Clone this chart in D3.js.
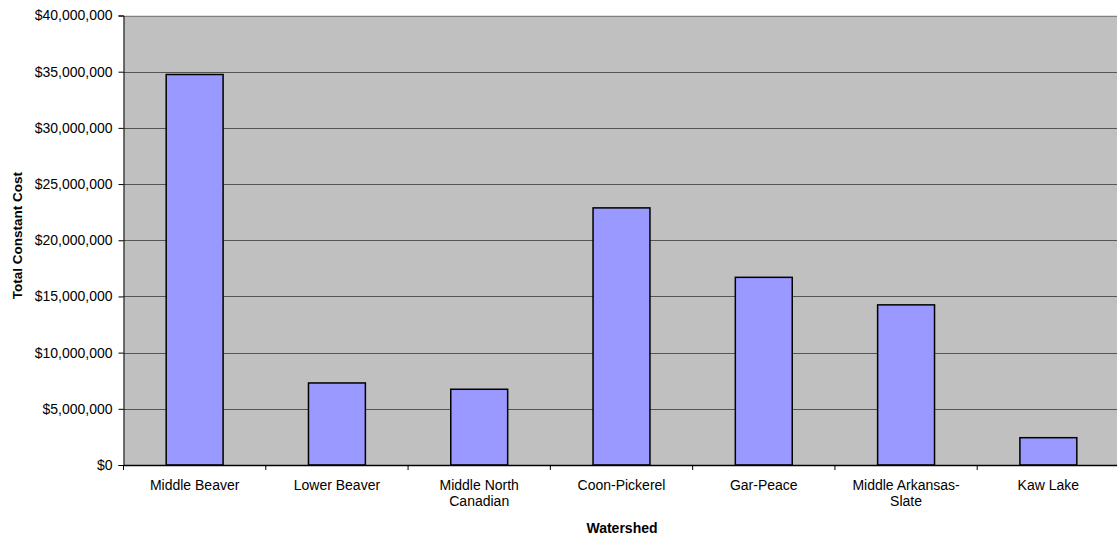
<!DOCTYPE html>
<html>
<head>
<meta charset="utf-8">
<script src="https://cdn.jsdelivr.net/npm/d3@7"></script>
<style>
  html, body { margin: 0; padding: 0; background: #fff; }
  svg { display: block; font-family: "Liberation Sans", Arial, sans-serif; }
</style>
</head>
<body>
<svg id="chart" width="1117" height="538"></svg>
<script>
// Total constant cost by watershed
const categories = [
  ["Middle Beaver"],
  ["Lower Beaver"],
  ["Middle North", "Canadian"],
  ["Coon-Pickerel"],
  ["Gar-Peace"],
  ["Middle Arkansas-", "Slate"],
  ["Kaw Lake"]
];
const costs = [34750000, 7300000, 6740000, 22880000, 16700000, 14250000, 2430000];
const yTicks = [0, 5000000, 10000000, 15000000, 20000000, 25000000, 30000000, 35000000, 40000000];

const svg = d3.select("#chart");
const plotLeft = 123.5, plotTop = 15.5, plotBottom = 465, plotRight = 1119.5;

const names = categories.map(c => c.join(" "));
const x = d3.scaleBand().domain(names).range([plotLeft, plotRight]).paddingInner(0.6).paddingOuter(0.3);
const xb = d3.scaleBand().domain(names).range([plotLeft, plotRight]);
const y = d3.scaleLinear().domain([0, 40000000]).range([plotBottom, plotTop]);

// plot background
svg.append("rect")
  .attr("x", plotLeft).attr("y", plotTop)
  .attr("width", plotRight - plotLeft).attr("height", plotBottom - plotTop)
  .attr("fill", "#c0c0c0");

// horizontal gridlines
svg.append("g").selectAll("line")
  .data(yTicks.filter(d => d > 0))
  .join("line")
  .attr("x1", plotLeft).attr("x2", plotRight)
  .attr("y1", d => Math.round(y(d)) + 0.5).attr("y2", d => Math.round(y(d)) + 0.5)
  .attr("stroke", d => d === 40000000 ? "#808080" : "#555")
  .attr("stroke-width", 1);

// bars
svg.append("g").selectAll("rect")
  .data(costs)
  .join("rect")
  .attr("x", (d, i) => x(names[i]))
  .attr("width", x.bandwidth())
  .attr("y", d => y(d))
  .attr("height", d => plotBottom - y(d))
  .attr("fill", "#9999ff")
  .attr("stroke", "#000")
  .attr("stroke-width", 1.5);

// y axis
const fmt = d => "$" + d3.format(",")(d);
const yAxis = svg.append("g")
  .attr("transform", `translate(${plotLeft},0)`)
  .call(d3.axisLeft(y).tickValues(yTicks).tickFormat(fmt).tickSize(5).tickPadding(6));
yAxis.select(".domain").attr("stroke", "#000");
yAxis.selectAll(".tick line").attr("stroke", "#000");
yAxis.selectAll("text").attr("font-size", 14).attr("fill", "#000")
  .attr("font-family", "Liberation Sans, Arial, sans-serif");

// x axis
const xAxis = svg.append("g")
  .attr("transform", `translate(0,${plotBottom})`)
  .call(d3.axisBottom(xb).tickValues([]).tickSizeOuter(0));
xAxis.select(".domain").attr("stroke", "#000").attr("stroke-width", 1.5);
xAxis.selectAll(".sep")
  .data(d3.range(names.length + 1))
  .join("line")
  .attr("class", "sep")
  .attr("x1", i => i < names.length ? xb(names[i]) : plotRight)
  .attr("x2", i => i < names.length ? xb(names[i]) : plotRight)
  .attr("y1", 0).attr("y2", 5)
  .attr("stroke", "#000");

// category labels
const labels = svg.append("g").selectAll("text")
  .data(categories)
  .join("text")
  .attr("x", (d, i) => xb(names[i]) + xb.bandwidth() / 2)
  .attr("y", 489.5)
  .attr("text-anchor", "middle")
  .attr("font-size", 14)
  .attr("fill", "#000");
labels.selectAll("tspan")
  .data(d => d)
  .join("tspan")
  .attr("x", function () { return d3.select(this.parentNode).attr("x"); })
  .attr("dy", (d, i) => i === 0 ? 0 : 16.5)
  .text(d => d);

// axis titles
svg.append("text")
  .attr("x", 622).attr("y", 533)
  .attr("text-anchor", "middle")
  .attr("font-size", 14).attr("font-weight", "bold")
  .text("Watershed");

svg.append("text")
  .attr("transform", `translate(22,235.5) rotate(-90)`)
  .attr("text-anchor", "middle")
  .attr("font-size", 13.5).attr("font-weight", "bold")
  .text("Total Constant Cost");
</script>
</body>
</html>
